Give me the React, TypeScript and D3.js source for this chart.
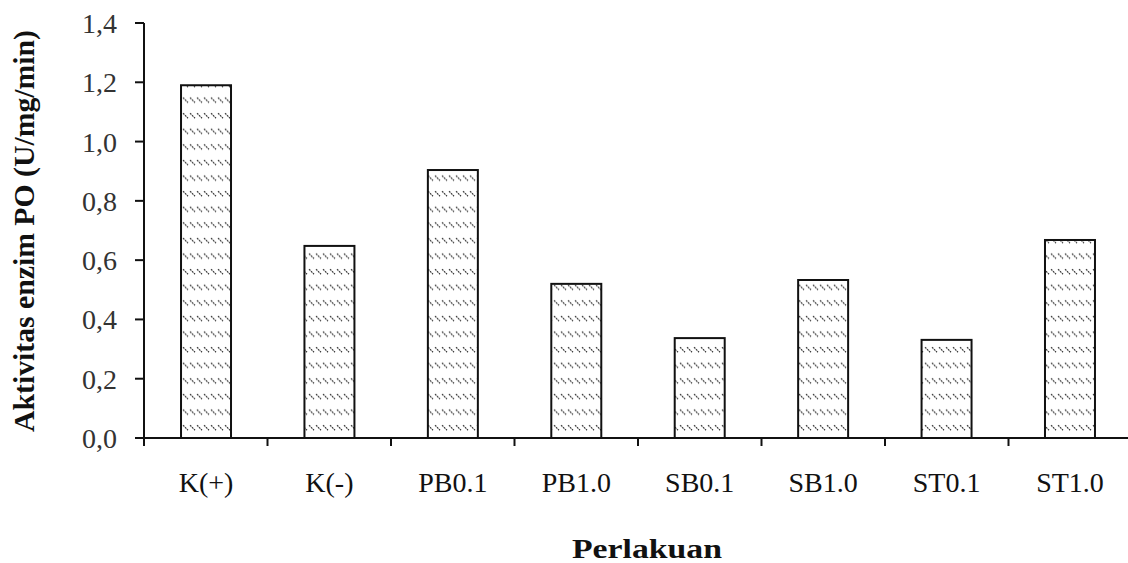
import React from "react";
import * as d3 from "d3";

const categories = ["K(+)", "K(-)", "PB0.1", "PB1.0", "SB0.1", "SB1.0", "ST0.1", "ST1.0"];
const values = [1.19, 0.648, 0.904, 0.52, 0.337, 0.533, 0.331, 0.668];
const yTicks = [0, 0.2, 0.4, 0.6, 0.8, 1.0, 1.2, 1.4];
const yTitle = "Aktivitas enzim PO (U/mg/min)";
const xTitle = "Perlakuan";

export default function App() {
  const W = 1128, H = 563;
  const x0 = 144, x1 = 144 + 123.5 * 8;
  const y = d3.scaleLinear().domain([0, 1.4]).range([438, 23]);
  const x = d3.scaleBand().domain(categories).range([x0, x1]).paddingInner(0.595).paddingOuter(0.3);
  const fmt = (v: number) => v.toFixed(1).replace(".", ",");
  const font = "'Liberation Serif', 'Times New Roman', serif";
  const catW = (x1 - x0) / categories.length;
  return (
    <svg width={W} height={H} style={{ position: "absolute", left: 0, top: 0, background: "#fff" }}>
      <defs>
        <pattern id="hatch" patternUnits="userSpaceOnUse" width={7} height={15.6} x={0} y={0}>
          <line x1={1} y1={4} x2={6} y2={9} stroke="#333" strokeWidth={1.2} strokeDasharray="2,0.8" />
        </pattern>
      </defs>
      {categories.map((c, i) => {
        const bx = x(c)!;
        const bw = x.bandwidth();
        const top = y(values[i]);
        return (
          <g key={c}>
            <rect x={bx} y={top} width={bw} height={y(0) - top} fill="url(#hatch)" />
            <rect x={bx} y={top} width={bw} height={y(0) - top} fill="none" stroke="#111" strokeWidth={2} />
          </g>
        );
      })}
      {/* y axis */}
      <line x1={x0} y1={y(1.4)} x2={x0} y2={y(0)} stroke="#111" strokeWidth={2} />
      {yTicks.map((t) => (
        <g key={t}>
          <line x1={x0 - 9} y1={y(t)} x2={x0} y2={y(t)} stroke="#111" strokeWidth={2} />
          <text x={117} y={y(t) + 10} textAnchor="end" fontFamily={font} fontSize={28} fill="#333">
            {fmt(t)}
          </text>
        </g>
      ))}
      {/* x axis */}
      <line x1={x0 - 9} y1={y(0)} x2={W} y2={y(0)} stroke="#111" strokeWidth={2} />
      {d3.range(categories.length + 1).map((i) => (
        <line key={i} x1={x0 + catW * i} y1={y(0)} x2={x0 + catW * i} y2={y(0) + 8} stroke="#111" strokeWidth={2} />
      ))}
      {categories.map((c) => (
        <text key={c} x={x(c)! + x.bandwidth() / 2} y={492} textAnchor="middle" fontFamily={font} fontSize={28} fill="#111">
          {c}
        </text>
      ))}
      <text x={647} y={558} textAnchor="middle" fontFamily={font} fontSize={28} fontWeight="bold" fill="#111" textLength={150} lengthAdjust="spacingAndGlyphs">
        {xTitle}
      </text>
      <text transform="translate(34,231) rotate(-90)" textAnchor="middle" fontFamily={font} fontSize={30} fontWeight="bold" fill="#111" textLength={402} lengthAdjust="spacingAndGlyphs">
        {yTitle}
      </text>
    </svg>
  );
}
